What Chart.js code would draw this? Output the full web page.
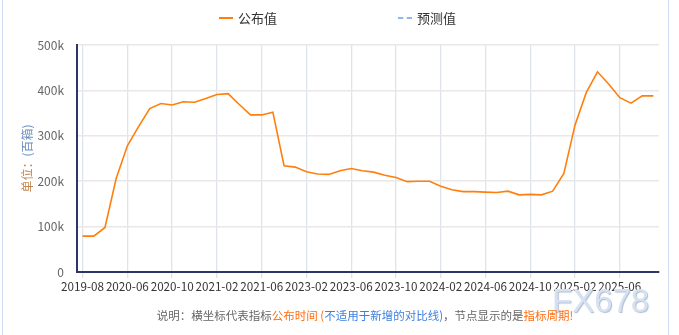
<!DOCTYPE html>
<html>
<head>
<meta charset="utf-8">
<script src="https://cdn.jsdelivr.net/npm/chart.js@4/dist/chart.umd.min.js"></script>
<style>
  body { margin: 0; background: #fff; font-family: "Noto Sans CJK SC", "Noto Sans", sans-serif; }
  #wrap { position: relative; width: 679px; height: 335px; overflow: hidden; }
  #frame { position: absolute; left: 2px; top: 0; width: 665px; height: 335px;
           border-left: 1px solid #cfdcf2; border-right: 1px solid #cfdcf2; }
  #chartBox { position: absolute; left: 0; top: 0; width: 679px; height: 300px; }
  .leg { position: absolute; top: 9px; font-size: 13px; color: #333; line-height: 18px; }
  .leg i { display: inline-block; width: 14px; vertical-align: middle; margin-right: 5px; margin-top: -2px; }
  #note { position: absolute; top: 307px; left: 0; width: 730px; text-align: center;
          font-size: 11.5px; color: #666; white-space: nowrap; }
  .o { color: #ff6d12; }
  .b { color: #3d7fe0; }
  #wm { position: absolute; left: 552px; top: 284px; font-family: "Liberation Sans", sans-serif;
        font-size: 33px; line-height: 33px; color: #d6e2f1; text-shadow: 1px 1px 1px #aebccf; }
</style>
</head>
<body>
<div id="wrap">
  <div id="frame"></div>
  <div id="chartBox"><canvas id="ChartGongbu"></canvas></div>
  <div class="leg" style="left:219px"><i style="border-top:2px solid #ff7f0e"></i>公布值</div>
  <div class="leg" style="left:398px"><i style="border-top:2px dashed #8fb7ee"></i>预测值</div>
  <div id="wm">FX678</div>
  <div id="note">说明：横坐标代表指标<span class="o">公布时间 (</span><span class="b">不适用于新增的对比线)</span>，节点显示的是<span class="o">指标周期!</span></div>
</div>
<script>
const labels = [
    "2019-08", "2019-09", "2020-04", "2020-05",
    "2020-06", "2020-07", "2020-08", "2020-09",
    "2020-10", "2020-11", "2020-12", "2021-01",
    "2021-02", "2021-03", "2021-04", "2021-05",
    "2021-06", "2021-07", "2022-12", "2023-01",
    "2023-02", "2023-03", "2023-04", "2023-05",
    "2023-06", "2023-07", "2023-08", "2023-09",
    "2023-10", "2023-11", "2023-12", "2024-01",
    "2024-02", "2024-03", "2024-04", "2024-05",
    "2024-06", "2024-07", "2024-08", "2024-09",
    "2024-10", "2024-11", "2024-12", "2025-01",
    "2025-02", "2025-03", "2025-04", "2025-05",
    "2025-06", "2025-07", "2025-08", "2025-09",
];

// 公布值 (单位：千)
const gongbuZhi = [
    79, 79, 98, 206, 278, 320, 360, 371,
    368, 375, 374, 382, 391, 393, 369, 346,
    346, 352, 234, 231, 221, 216, 215, 223,
    228, 223, 220, 213, 208, 199, 200, 200,
    189, 181, 177, 177, 176, 175, 178, 170,
    171, 170, 178, 217, 324, 395, 441, 414,
    384, 372, 388, 388,
];

const yTicks = [0, 100000, 200000, 300000, 400000, 500000];

// y axis title in two colours, drawn by hand
const yTitlePlugin = {
    id: "yTitle",
    afterDraw(chart) {
        const ctx = chart.ctx;
        const area = chart.chartArea;
        const cy = (area.top + area.bottom) / 2;
        ctx.save();
        ctx.translate(27, cy);
        ctx.rotate(-Math.PI / 2);
        ctx.font = "12px 'Noto Sans CJK SC'";
        ctx.textBaseline = "middle";
        const p1 = "单位：";
        const p2 = "(百箱)";
        const w1 = ctx.measureText(p1).width;
        const w2 = ctx.measureText(p2).width;
        let x = -(w1 + w2) / 2;
        ctx.fillStyle = "#c4874f";
        ctx.fillText(p1, x, 0);
        ctx.fillStyle = "#6f90bf";
        ctx.fillText(p2, x + w1, 0);
        ctx.restore();
    },
};

document.addEventListener("DOMContentLoaded", function () {
    const ctx = document.getElementById("ChartGongbu");
    new Chart(ctx, {
        type: "line",
        data: {
            labels: labels,
            datasets: [
                {
                    label: "公布值",
                    data: gongbuZhi.map((v) => v * 1000),
                    borderColor: "#ff7f0e",
                    borderWidth: 1.6,
                    pointRadius: 0,
                    tension: 0,
                    fill: false,
                },
            ],
        },
        options: {
            responsive: true,
            maintainAspectRatio: false,
            animation: false,
            layout: { padding: { top: 45, right: 20, left: 0, bottom: 0 } },
            plugins: {
                legend: { display: false },
                tooltip: { enabled: false },
            },
            scales: {
                x: {
                    offset: true,
                    border: { color: "#2c3564", width: 2 },
                    grid: {
                        offset: false,
                        tickLength: 6,
                        lineWidth: 1.3,
                        color: (c) =>
                            c.index % 4 === 0 ? "#dfe3ea" : "rgba(0,0,0,0)",
                    },
                    ticks: {
                        autoSkip: false,
                        maxRotation: 0,
                        padding: 2,
                        color: "#333",
                        font: { size: 11.7, family: "'Noto Sans CJK SC'" },
                        callback: function (value, index) {
                            return index % 4 === 0 ? labels[index] : "";
                        },
                    },
                    afterFit: (s) => { s.height = 28; },
                },
                y: {
                    min: 0,
                    max: 500000,
                    border: { color: "#2c3564", width: 2 },
                    grid: { color: "#e8e8e8", lineWidth: 1.5, drawTicks: false },
                    afterBuildTicks: (s) => {
                        s.ticks = yTicks.map((v) => ({ value: v }));
                    },
                    ticks: {
                        padding: 13,
                        color: "#666",
                        font: { size: 12, family: "'Noto Sans CJK SC'" },
                        callback: (v) => (v === 0 ? "0" : v / 1000 + "k"),
                    },
                    afterFit: (s) => { s.width = 77; },
                },
            },
        },
        plugins: [yTitlePlugin],
    });
});
</script>
</body>
</html>
